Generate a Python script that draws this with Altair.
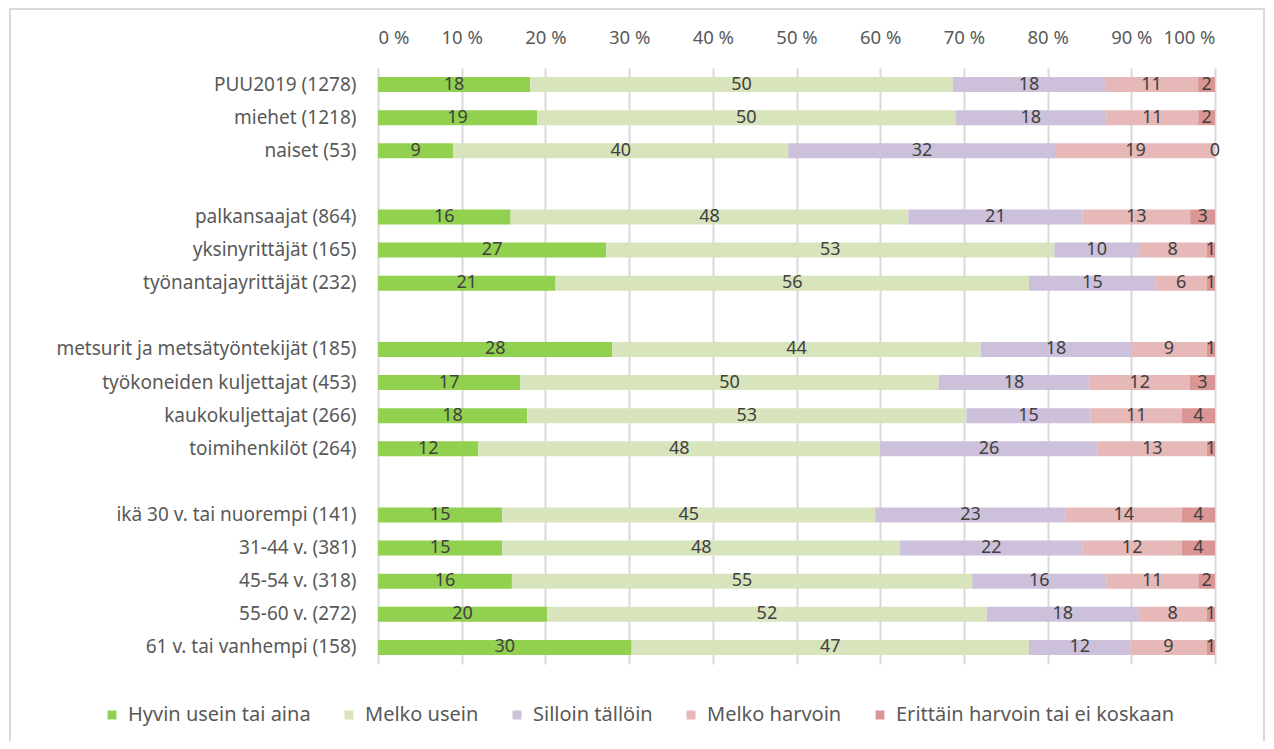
import altair as alt
import pandas as pd

rows = ["PUU2019 (1278)", "miehet (1218)", "naiset (53)", " ",
        "palkansaajat (864)", "yksinyrittäjät (165)", "työnantajayrittäjät (232)", "  ",
        "metsurit ja metsätyöntekijät (185)", "työkoneiden kuljettajat (453)",
        "kaukokuljettajat (266)", "toimihenkilöt (264)", "   ",
        "ikä 30 v. tai nuorempi (141)", "31-44 v. (381)", "45-54 v. (318)",
        "55-60 v. (272)", "61 v. tai vanhempi (158)"]

categories = ["Hyvin usein tai aina", "Melko usein", "Silloin tällöin",
              "Melko harvoin", "Erittäin harvoin tai ei koskaan"]
colors = ["#92D050", "#D8E4BC", "#CCC0DA", "#E6B8B7", "#DA9694"]

data_rows = ["PUU2019 (1278)", "miehet (1218)", "naiset (53)",
             "palkansaajat (864)", "yksinyrittäjät (165)", "työnantajayrittäjät (232)",
             "metsurit ja metsätyöntekijät (185)", "työkoneiden kuljettajat (453)",
             "kaukokuljettajat (266)", "toimihenkilöt (264)",
             "ikä 30 v. tai nuorempi (141)", "31-44 v. (381)", "45-54 v. (318)",
             "55-60 v. (272)", "61 v. tai vanhempi (158)"]

hyvin_usein = [18, 19, 9, 16, 27, 21, 28, 17, 18, 12, 15, 15, 16, 20, 30]
melko_usein = [50, 50, 40, 48, 53, 56, 44, 50, 53, 48, 45, 48, 55, 52, 47]
silloin = [18, 18, 32, 21, 10, 15, 18, 18, 15, 26, 23, 22, 16, 18, 12]
melko_harvoin = [11, 11, 19, 13, 8, 6, 9, 12, 11, 13, 14, 12, 11, 8, 9]
erittain_harvoin = [2, 2, 0, 3, 1, 1, 1, 3, 4, 1, 4, 4, 2, 1, 1]

series = [hyvin_usein, melko_usein, silloin, melko_harvoin, erittain_harvoin]
recs = []
for i, r in enumerate(data_rows):
    for k, cat in enumerate(categories):
        recs.append({"row": r, "cat": cat, "order": k, "value": series[k][i]})
df = pd.DataFrame(recs)

FONT = "Noto Sans"
TXT = "#404040"
AX = "#595959"

base = alt.Chart(df).transform_stack(
    stack="value", groupby=["row"], sort=[alt.SortField("order")],
    as_=["x0", "x1"], offset="normalize"
).transform_calculate(mid="(datum.x0 + datum.x1) / 2")

yenc = alt.Y("row:N", sort=rows,
             scale=alt.Scale(domain=rows, paddingInner=0.5, paddingOuter=0.25),
             axis=alt.Axis(title=None, ticks=False, domain=False, labelFontSize=19,
                           labelColor=AX, labelFont=FONT, labelPadding=22, labelLimit=0))

bars = base.mark_bar(size=15).encode(
    y=yenc,
    x=alt.X("x0:Q", scale=alt.Scale(domain=[0, 1], nice=False),
            axis=alt.Axis(orient="top", title=None, values=[i / 10 for i in range(11)],
                          labelExpr="round(datum.value*100) + ' %'", ticks=False,
                          domain=False, grid=True, gridColor="#D9D9D9", gridWidth=2,
                          labelFontSize=18.5, labelColor=AX, labelFont=FONT,
                          labelPadding=21)),
    x2="x1:Q",
    color=alt.Color("cat:N", scale=alt.Scale(domain=categories, range=colors),
                    sort=categories,
                    legend=alt.Legend(title=None, orient="none", direction="horizontal",
                                      legendX=-276, legendY=637, symbolType="square",
                                      symbolSize=80, symbolStrokeWidth=0, labelLimit=0,
                                      labelFontSize=20, labelColor=AX, labelFont=FONT,
                                      labelOffset=6, columnPadding=28)),
    order=alt.Order("order:Q"),
)

labels = base.mark_text(fontSize=18, color=TXT, font=FONT).encode(
    y=alt.Y("row:N", sort=rows, scale=alt.Scale(domain=rows)),
    x=alt.X("mid:Q"),
    text=alt.Text("value:Q"),
)

frame = alt.Chart(pd.DataFrame({"f": [0]})).mark_rect(
    fill=None, stroke="#D9D9D9", strokeWidth=2
).encode(
    x=alt.value(-368), x2=alt.value(886), y=alt.value(-59), y2=alt.value(720)
)

chart = alt.layer(frame, bars, labels).properties(
    width=837, height=596,
    autosize=alt.AutoSizeParams(type="none"),
    padding={"left": 370, "top": 60, "right": 51, "bottom": 77},
    background="white",
).configure_view(stroke=None)

chart.save("out.html", embed_options={"renderer": "svg", "actions": False})
